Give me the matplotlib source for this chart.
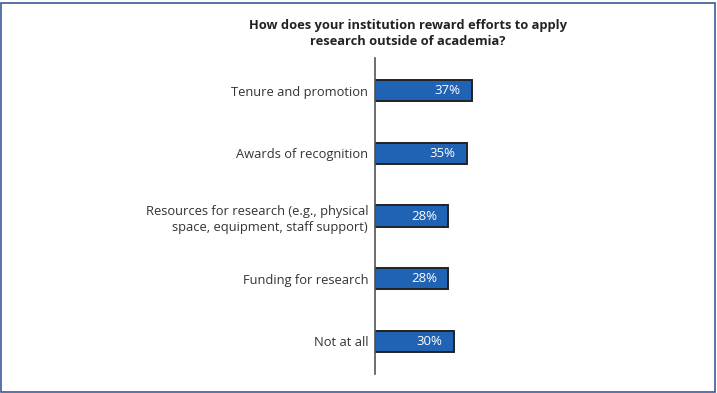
import matplotlib
matplotlib.use('Agg')
import matplotlib.pyplot as plt
from matplotlib.patches import Rectangle

plt.rcParams['font.family'] = ['Open Sans', 'DejaVu Sans']

categories = ['Tenure and promotion',
              'Awards of recognition',
              'Resources for research (e.g., physical\nspace, equipment, staff support)',
              'Funding for research',
              'Not at all']
values = [37, 35, 28, 28, 30]
title = 'How does your institution reward efforts to apply\nresearch outside of academia?'

fig = plt.figure(figsize=(7.17, 3.93), dpi=100)
# axes: left edge at x=375px, top at y=58px, bottom at y=374px
ax = fig.add_axes([375 / 717, 1 - 374 / 393, 262 / 717, 316 / 393])

pos = list(range(len(categories)))
bars = ax.barh(pos, values, height=0.34, color='#2062b4',
               edgecolor='#222222', linewidth=1.4)
for b, v in zip(bars, values):
    ax.text(b.get_width() - 4.2, b.get_y() + b.get_height() / 2, f'{v}%',
            ha='right', va='center', color='white', fontsize=9.5)

ax.set_xlim(0, 100)
ax.set_ylim(4.52, -0.52)
ax.set_yticks(pos)
ax.set_yticklabels(categories, fontsize=9.3, color='#333333', ha='right',
                   linespacing=1.4)
ax.tick_params(axis='y', length=0, pad=5)
ax.set_xticks([])
for s in ['top', 'right', 'bottom']:
    ax.spines[s].set_visible(False)
ax.spines['left'].set_color('#555555')
ax.spines['left'].set_linewidth(1.2)

fig.text(408 / 717, 1 - 33.5 / 393, title, ha='center', va='center',
         fontsize=9.3, fontweight='bold', color='#222222', linespacing=1.35)

# figure border
fig.patches.append(Rectangle((1 / 717, 1.5 / 393), 714 / 717, 389 / 393,
                             transform=fig.transFigure, fill=False,
                             edgecolor='#3b5a9a', linewidth=1.2))

fig.savefig('out.png', dpi=100)
